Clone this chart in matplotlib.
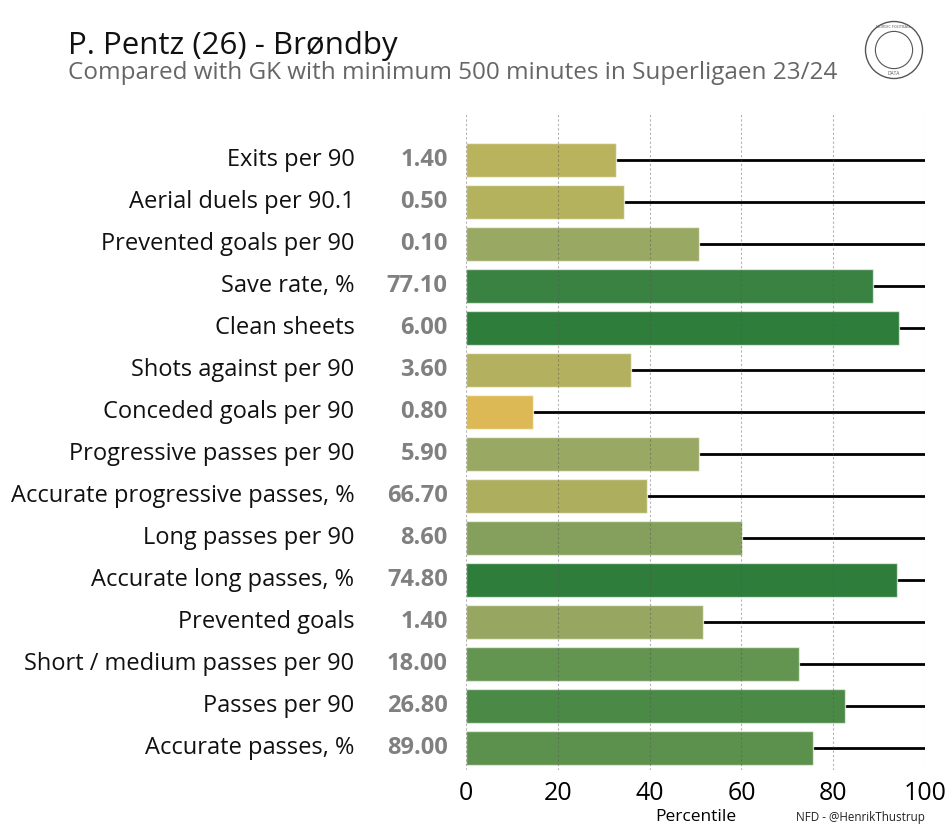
import matplotlib
matplotlib.use("Agg")
import matplotlib.pyplot as plt
from matplotlib.colors import LinearSegmentedColormap
from matplotlib.patches import Circle

metrics = ["Exits per 90", "Aerial duels per 90.1", "Prevented goals per 90", "Save rate, %",
           "Clean sheets", "Shots against per 90", "Conceded goals per 90",
           "Progressive passes per 90", "Accurate progressive passes, %", "Long passes per 90",
           "Accurate long passes, %", "Prevented goals", "Short / medium passes per 90",
           "Passes per 90", "Accurate passes, %"]
values = ["1.40", "0.50", "0.10", "77.10", "6.00", "3.60", "0.80", "5.90", "66.70", "8.60",
          "74.80", "1.40", "18.00", "26.80", "89.00"]
percentiles = [32.7, 34.4, 50.8, 88.7, 94.3, 35.9, 14.6, 50.8, 39.4, 60.1, 93.9, 51.6, 72.5, 82.6, 75.6]
xticks = [0, 20, 40, 60, 80, 100]

cmap = LinearSegmentedColormap.from_list("pct", [
    (0.0, "#f0bd4f"), (0.146, "#ddb955"), (0.33, "#b8b35e"), (0.51, "#99a862"),
    (0.60, "#84a05c"), (0.73, "#629450"), (0.83, "#4a8946"), (0.89, "#3a8242"),
    (0.94, "#2e7d3b"), (1.0, "#2a7a38")])

plt.rcParams['font.family'] = ['Open Sans', 'DejaVu Sans']

fig = plt.figure(figsize=(9.5, 8.32), dpi=100)
ax = fig.add_axes([466/950, 1-770/832, (925-466)/950, (770-113)/832])

ys = list(range(len(metrics)))
for y, p in zip(ys, percentiles):
    ax.plot([p, 100], [y, y], color="black", lw=2, zorder=1, solid_capstyle="butt")
ax.barh(ys, percentiles, height=0.8, color=[cmap(p/100) for p in percentiles],
        edgecolor=(1, 1, 1, 0.6), linewidth=1, zorder=2)
for x in xticks:
    ax.axvline(x, color="#555555", lw=0.8, ls=(0, (2, 2)), alpha=0.45, zorder=3)

ax.set_ylim(len(metrics) - 1 + 0.52, -1.12)
ax.set_xlim(0, 100)
ax.set_xticks(xticks)
ax.set_xticklabels([str(x) for x in xticks], fontsize=18)
ax.tick_params(axis="x", length=0, pad=8)
ax.set_yticks([])
for s in ax.spines.values():
    s.set_visible(False)
ax.set_xlabel("Percentile", fontsize=12.5, labelpad=2)

for y, m, v in zip(ys, metrics, values):
    ax.text(-24.3, y, m, ha="right", va="center", fontsize=17, color="#111111")
    ax.text(-4, y, v, ha="right", va="center", fontsize=17, color="#808080", fontweight="bold")

fig.text(925/950, 1-818/832, "NFD - @HenrikThustrup", ha="right", va="center", fontsize=8.4, color="#222222")
fig.text(68/950, 1-46/832, "P. Pentz (26) - Brøndby", ha="left", va="center", fontsize=22.5, color="#111111")
fig.text(68/950, 1-73/832, "Compared with GK with minimum 500 minutes in Superligaen 23/24",
         ha="left", va="center", fontsize=17.5, color="#666666")

# logo
lax = fig.add_axes([864/950, 1-80/832, 60/950, 60/832])
lax.set_xlim(-1, 1); lax.set_ylim(-1, 1); lax.set_aspect("equal"); lax.axis("off")
lax.add_patch(Circle((0, 0), 0.95, fill=False, ec="#555555", lw=1))
lax.add_patch(Circle((0, 0), 0.62, fill=False, ec="#555555", lw=0.8))
lax.text(0, -0.78, "DATA", ha="center", va="center", fontsize=3.5, color="#555555")
lax.text(0, 0.78, "NORDIC FOOTBALL", ha="center", va="center", fontsize=2.8, color="#555555")

fig.savefig("out.png", dpi=100, facecolor="white")
